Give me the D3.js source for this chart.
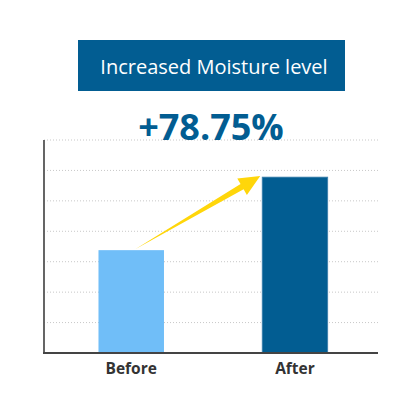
<!DOCTYPE html>
<html><head><meta charset="utf-8">
<script src="https://cdn.jsdelivr.net/npm/d3@7/dist/d3.min.js"></script>
<style>html,body{margin:0;padding:0;background:#fff}svg{display:block}</style>
</head><body>
<svg id="c" width="414" height="414"></svg>
<script>
const categories = ["Before", "After"];
const values = [3.38, 5.78];
const gridTicks = [0, 1, 2, 3, 4, 5, 6, 7];
const titleText = "Increased Moisture level";
const changeText = "+78.75%";
const barColors = ["#70bef8", "#025d92"];

const svg = d3.select("#c");
const blue = "#025d92";

// Title box
svg.append("rect").attr("x", 78).attr("y", 40).attr("width", 267).attr("height", 51).attr("fill", blue);
svg.append("text").attr("x", 214).attr("y", 66).attr("text-anchor", "middle").attr("dominant-baseline", "central")
  .attr("fill", "#fff").attr("font-family", "Open Sans").attr("font-size", 20).text(titleText);

const x = d3.scaleBand().domain(categories).range([44, 378]).paddingInner(0.6).paddingOuter(0.32).align(0.52);
const y = d3.scaleLinear().domain([0, 7]).range([353, 140]);

// gridlines
svg.append("g").selectAll("line").data(gridTicks.slice(1)).join("line")
  .attr("x1", 44).attr("x2", 378).attr("y1", d => y(d)).attr("y2", d => y(d))
  .attr("stroke", "#c8c8c8").attr("stroke-width", 1).attr("stroke-dasharray", "1,2");

// change text
svg.append("text").attr("x", 211).attr("y", 140).attr("text-anchor", "middle")
  .attr("fill", blue).attr("font-family", "Open Sans").attr("font-weight", "bold").attr("font-size", 36).text(changeText);

// bars
svg.append("g").selectAll("rect").data(categories).join("rect")
  .attr("x", d => x(d)).attr("width", x.bandwidth())
  .attr("y", (d, i) => y(values[i])).attr("height", (d, i) => y(0) - y(values[i]))
  .attr("fill", (d, i) => barColors[i])
  .attr("stroke", (d, i) => i === 1 ? "#3f80ad" : "none").attr("stroke-width", 0.8);

// arrow
const tx = x("Before") + x.bandwidth() * 0.56, ty = y(values[0]) - 1;
const hx = x("After") - 2, hy = y(values[1]) - 1;
const dx = hx - tx, dy = hy - ty, L = Math.hypot(dx, dy);
const ux = dx / L, uy = dy / L, nx = -uy, ny = ux;
const headLen = 21, headW = 9.5, shaftW = 3;
const bx = hx - ux * headLen, by = hy - uy * headLen;
const pts = [
  [tx, ty],
  [bx + nx * shaftW, by + ny * shaftW],
  [bx + nx * headW, by + ny * headW],
  [hx, hy],
  [bx - nx * headW, by - ny * headW],
  [bx - nx * shaftW, by - ny * shaftW]
];
svg.append("polygon").attr("points", pts.map(p => p.join(",")).join(" ")).attr("fill", "#ffd60a");

// axes
svg.append("line").attr("x1", 44).attr("x2", 44).attr("y1", 140).attr("y2", 353).attr("stroke", "#555").attr("stroke-width", 1.8);
svg.append("line").attr("x1", 43).attr("x2", 378).attr("y1", 353).attr("y2", 353).attr("stroke", "#444").attr("stroke-width", 1.8);

// x labels
const xAxis = d3.axisBottom(x).tickSize(0).tickPadding(0);
const gx = svg.append("g").attr("transform", "translate(0,363)").call(xAxis);
gx.select(".domain").remove();
gx.selectAll("text").attr("font-family", "Open Sans").attr("font-weight", "bold").attr("font-size", 15.5).attr("fill", "#333").attr("dy", "0.71em");
</script>
</body></html>
